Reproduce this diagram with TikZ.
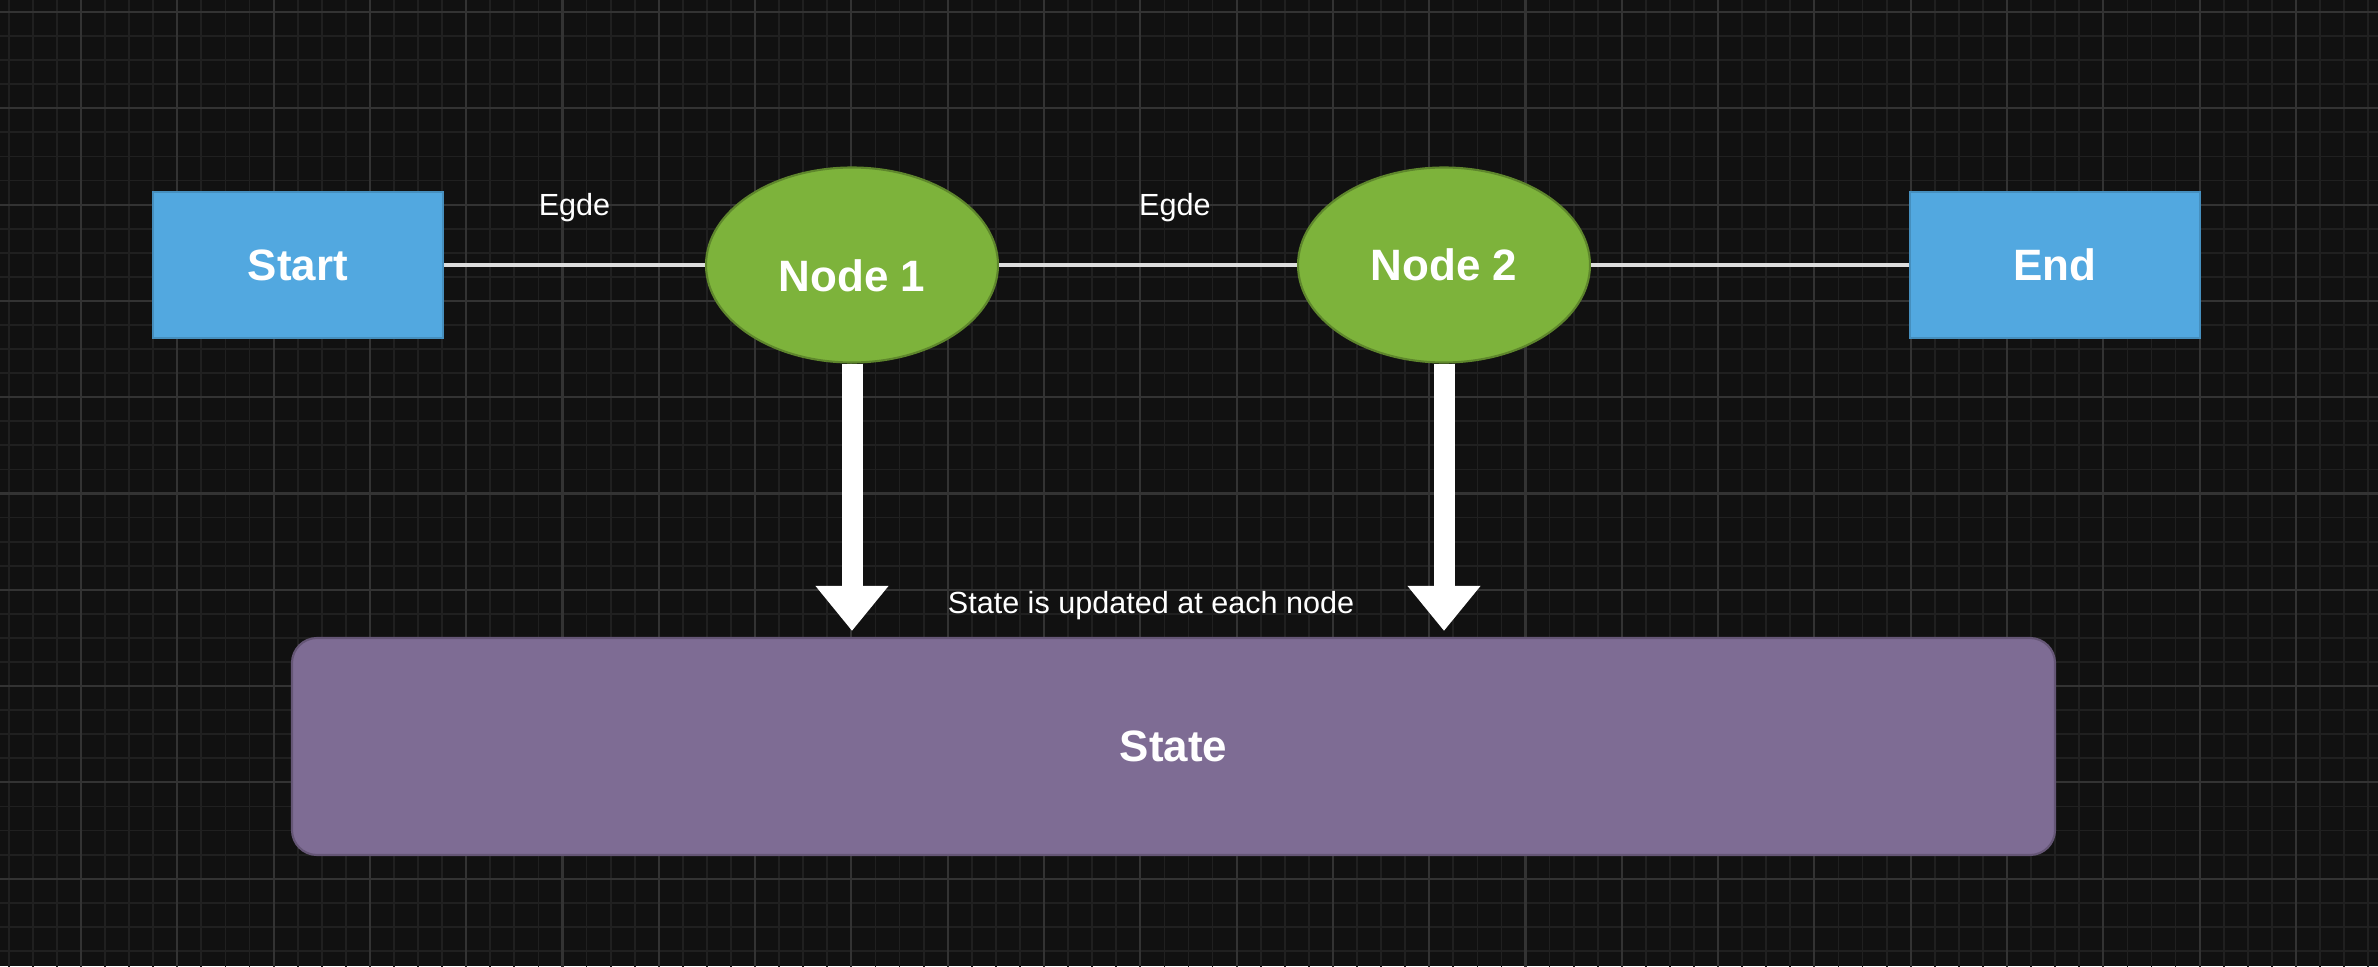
\documentclass[tikz,border=0pt]{standalone}
\usepackage{fontspec}
\setmainfont{Liberation Sans}
\usetikzlibrary{shapes.geometric,arrows.meta,positioning}
\definecolor{canvas}{HTML}{111111}
\definecolor{gridmajor}{HTML}{333333}
\definecolor{gridminor}{HTML}{202020}
\definecolor{termblue}{HTML}{52A8E0}
\definecolor{stepgreen}{HTML}{7DB33B}
\definecolor{statepurple}{HTML}{7E6C94}
\definecolor{edgegray}{HTML}{DDDDDD}
\begin{document}
\begin{tikzpicture}[>=latex]
\tikzset{
  terminal/.style={draw=termblue!85!black,line width=0.6pt,fill=termblue,minimum width=2.9cm,minimum height=1.46cm,text=white,font=\fontsize{12.5}{15}\selectfont\bfseries},
  graphnode/.style={ellipse,draw=stepgreen!75!black,line width=0.6pt,fill=stepgreen,minimum width=2.92cm,minimum height=1.95cm,inner sep=0pt,text=white,font=\fontsize{12.5}{15}\selectfont\bfseries},
  statebox/.style={draw=statepurple!80!black,line width=0.6pt,fill=statepurple,rounded corners=0.25cm,minimum width=17.63cm,minimum height=2.17cm,text=white,font=\fontsize{12.5}{15}\selectfont\bfseries},
  edge/.style={draw=edgegray,line width=0.9pt},
  edgelabel/.style={text=white,inner sep=0pt,font=\fontsize{8.7}{10}\selectfont},
  update/.style={draw=white,line width=0.21cm,-{Triangle[width=0.7cm,length=0.45cm]}}
}
\useasboundingbox (0,0) rectangle (23.78,9.66);
\fill[canvas] (0,0) rectangle (23.78,9.66);
\begin{scope}
\clip (0,0) rectangle (23.78,9.66);
\begin{scope}[shift={(0.81,9.54)}]
\draw[gridminor,line width=0.5pt,step=0.24075] (-1.2,-10.2) grid (23.4,0.6);
\draw[gridmajor,line width=0.6pt,step=0.963] (-1.2,-10.2) grid (23.4,0.6);
\end{scope}
\end{scope}
\node[terminal] (start) at (2.98,7.01) {Start};
\node[graphnode,text height=15.2pt,text depth=0pt] (n1) at (8.52,7.01) {Node 1};
\node[graphnode] (n2) at (14.44,7.01) {Node 2};
\node[terminal] (end) at (20.55,7.01) {End};
\node[statebox] (state) at (11.735,2.195) {State};
\draw[edge] (start) -- node[edgelabel,above=0.42cm]{Egde} (n1);
\draw[edge] (n1) -- node[edgelabel,pos=0.59,above=0.42cm]{Egde} (n2);
\draw[edge] (n2) -- (end);
\draw[update,shorten >=0.06cm] (n1.south) -- (n1.south |- state.north);
\draw[update,shorten >=0.06cm] (n2.south) -- (n2.south |- state.north);
\node[edgelabel,anchor=base] (note) at (11.51,3.53) {State is updated at each node};
\end{tikzpicture}
\end{document}
